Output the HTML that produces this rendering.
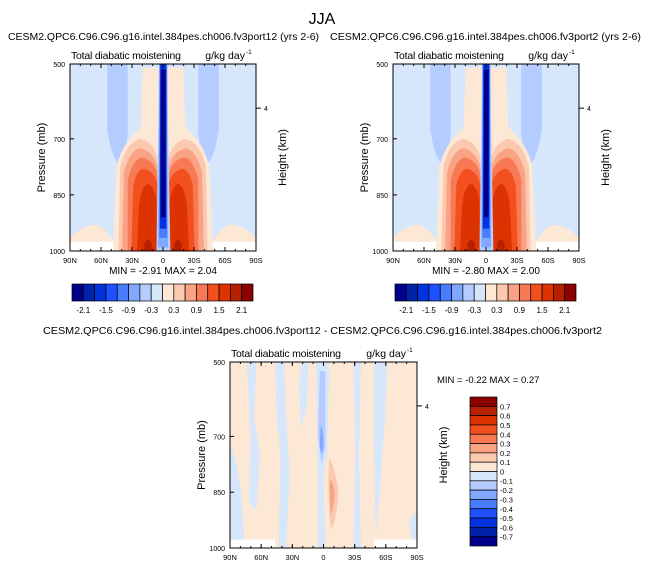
<!DOCTYPE html>
<html><head><meta charset="utf-8"><style>
html,body{margin:0;padding:0;background:#fff;}
svg{display:block;font-family:"Liberation Sans",Arial,sans-serif;}
</style></head><body>
<svg id="fig" width="645" height="569" viewBox="0 0 645 569"></svg>
<script>
// ---- data ----
const xTickLabels = ["90N","60N","30N","0","30S","60S","90S"];
const pTicks = [500,700,850,1000];
const heightTicks = [4];
const heightTickFrac = [0.236];
const topLevels = [-2.1,-1.8,-1.5,-1.2,-0.9,-0.6,-0.3,0,0.3,0.6,0.9,1.2,1.5,1.8,2.1];
const topLevelLabels = ["-2.1","-1.5","-0.9","-0.3","0.3","0.9","1.5","2.1"];
const diffLevelLabels = ["0.7","0.6","0.5","0.4","0.3","0.2","0.1","0","-0.1","-0.2","-0.3","-0.4","-0.5","-0.6","-0.7"];
const palette = ["#00008b","#0022a8","#0033dd","#1e50ff","#4a7cff","#80a8ff","#b4ccff","#d6e6fb","#fde8d6","#fcc9b0","#f9a384","#f77a55","#f2501f","#dd3300","#b52000","#8b0000"];
const stats = [{min:"-2.91",max:"2.04"},{min:"-2.80",max:"2.00"},{min:"-0.22",max:"0.27"}];

const NS="http://www.w3.org/2000/svg";
const svg=document.getElementById('fig');
function mk(tag,attrs,parent){const e=document.createElementNS(NS,tag);for(const k in attrs)e.setAttribute(k,attrs[k]);(parent||svg).appendChild(e);return e;}
function txt(s,x,y,size,anchor,parent,extra){const t=mk('text',Object.assign({x:x,y:y,'font-size':size,'text-anchor':anchor||'start',fill:'#000'},extra||{}),parent);t.textContent=s;return t;}

function shape(g,x0,y0,w,h,pts,fill,mirror){
  let d=pts.replace(/(-?\d*\.?\d+),(-?\d*\.?\d+)/g,(m,a,b)=>{let u=+a;if(mirror)u=1-u;return (x0+u*w).toFixed(1)+','+(y0+(+b)*h).toFixed(1);});
  return mk('path',{d:d,fill:fill},g);
}

function axes(g,x0,y0,w,h){
  const yS=p=>y0+(p-500)/500*h;
  const xS=i=>x0+i*w/(xTickLabels.length-1);
  mk('rect',{x:x0,y:y0,width:w,height:h,fill:'none',stroke:'#000','stroke-width':1},g);
  xTickLabels.forEach((l,i)=>{
    const x=xS(i);
    mk('line',{x1:x,y1:y0+h,x2:x,y2:y0+h-4,stroke:'#000'},g);
    mk('line',{x1:x,y1:y0,x2:x,y2:y0+4,stroke:'#000'},g);
    const t=txt(l,x,y0+h+12,7.5,'middle',g);
    
    
  });
  for(let i=0;i<18;i++){const x=x0+i*w/18;mk('line',{x1:x,y1:y0+h,x2:x,y2:y0+h-2,stroke:'#000'},g);mk('line',{x1:x,y1:y0,x2:x,y2:y0+2,stroke:'#000'},g);}
  pTicks.forEach(p=>{
    const y=yS(p);
    mk('line',{x1:x0,y1:y,x2:x0+4,y2:y,stroke:'#000'},g);
    const t=txt(String(p),x0-5,y+3,7,'end',g);
    
    
  });
  heightTicks.forEach((hk,i)=>{
    const y=y0+heightTickFrac[i]*h;
    mk('line',{x1:x0+w,y1:y,x2:x0+w+5,y2:y,stroke:'#000'},g);
    txt(String(hk),x0+w+8,y+3,7,'start',g);
  });
  const yl=txt('Pressure (mb)',0,0,11,'middle',g,{transform:`translate(${x0-25},${y0+h/2}) rotate(-90)`});
  
  
  const hl=txt('Height (km)',0,0,11,'middle',g,{transform:`translate(${x0+w+30},${y0+h/2}) rotate(-90)`});
  
  
  txt('Total diabatic moistening',x0+1,y0-5,10.5,'start',g,{textLength:110});
  txt('g/kg day',x0+w-11,y0-5,10.5,'end',g);
  txt('-1',x0+w-10,y0-10,6.5,'start',g);
}

function topPanel(x0,y0,w,h,name,titleStr,titleX,st){
  const g=mk('g',{});
  
  
  const tt=txt(titleStr,titleX,40,10.5,'start',null,{textLength:311,lengthAdjust:'spacingAndGlyphs'});
  
  
  mk('rect',{x:x0,y:y0,width:w,height:h,fill:palette[7]},g);
  mk('rect',{x:x0,y:y0+0.95*h,width:w,height:0.05*h,fill:'#fff'},g);
  [false,true].forEach(m=>{
    shape(g,x0,y0,w,h,'M0.2,0 L0.31,0 L0.31,0.38 Q0.29,0.55 0.25,0.52 Q0.22,0.48 0.2,0.35 Z',palette[6],m);
    shape(g,x0,y0,w,h,'M0,0.93 Q0.07,0.86 0.14,0.86 Q0.18,0.87 0.22,0.93 L0.24,0.95 L0,0.95 Z',palette[8],m);
  });
  shape(g,x0,y0,w,h,'M0.39,0.02 L0.61,0.02 L0.62,0.34 Q0.72,0.42 0.75,0.55 L0.77,1 L0.23,1 L0.25,0.55 Q0.28,0.42 0.38,0.34 Z',palette[8]);
  [false,true].forEach(m=>{
    shape(g,x0,y0,w,h,'M0.26,1 L0.27,0.55 Q0.3,0.42 0.38,0.4 Q0.45,0.42 0.47,0.5 L0.47,1 Z',palette[9],m);
    shape(g,x0,y0,w,h,'M0.28,1 L0.29,0.58 Q0.32,0.46 0.38,0.45 Q0.45,0.47 0.47,0.55 L0.47,1 Z',palette[10],m);
    shape(g,x0,y0,w,h,'M0.31,1 L0.31,0.62 Q0.34,0.5 0.39,0.5 Q0.46,0.52 0.47,0.6 L0.47,1 Z',palette[11],m);
    shape(g,x0,y0,w,h,'M0.33,1 L0.34,0.65 Q0.36,0.56 0.4,0.56 Q0.46,0.58 0.47,0.65 L0.47,1 Z',palette[12],m);
    shape(g,x0,y0,w,h,'M0.36,1 L0.37,0.78 Q0.38,0.65 0.42,0.64 Q0.46,0.66 0.465,0.75 L0.465,1 Z',palette[13],m);
    shape(g,x0,y0,w,h,'M0.4,1 L0.4,0.96 Q0.42,0.92 0.44,0.96 L0.44,1 Z',palette[14],m);
  });
  shape(g,x0,y0,w,h,'M0.465,1 L0.475,0.3 L0.478,0 L0.525,0 L0.527,0.3 L0.54,1 Z',palette[6]);
  shape(g,x0,y0,w,h,'M0.475,0.98 L0.48,0 L0.522,0 L0.527,0.98 Z',palette[5]);
  shape(g,x0,y0,w,h,'M0.48,0.93 L0.483,0 L0.52,0 L0.522,0.93 Z',palette[4]);
  shape(g,x0,y0,w,h,'M0.483,0.88 L0.485,0 L0.518,0 L0.518,0.88 Z',palette[2]);
  shape(g,x0,y0,w,h,'M0.488,0.82 L0.49,0.03 L0.514,0.03 L0.514,0.82 Z',palette[0]);
  axes(g,x0,y0,w,h);
  const mm=txt(`MIN =  ${st.min}  MAX =   ${st.max}`,x0+w/2,y0+h+23,10,'middle',g);
  
  
  const cb=mk('g',{});
  
  
  const cx=x0+2,cy=284,cw=181,ch=17,bw=cw/palette.length;
  palette.forEach((c,i)=>{
    const r=mk('rect',{x:cx+i*bw,y:cy,width:bw,height:ch,fill:c,stroke:'#000','stroke-width':0.7},cb);
    
    
  });
  topLevelLabels.forEach((l,i)=>{
    txt(l,cx+(2*i+1)*bw,313,8,'middle',cb);
  });
}

topPanel(70,64,186,187,'panel-port12','CESM2.QPC6.C96.C96.g16.intel.384pes.ch006.fv3port12 (yrs 2-6)',8,stats[0]);
topPanel(393,64,186,187,'panel-port2','CESM2.QPC6.C96.C96.g16.intel.384pes.ch006.fv3port2 (yrs 2-6)',330,stats[1]);

txt('JJA',322,24,16,'middle');

(function(){
  const x0=230,y0=362,w=187,h=186;
  const g=mk('g',{});
  
  
  const tt=txt('CESM2.QPC6.C96.C96.g16.intel.384pes.ch006.fv3port12 - CESM2.QPC6.C96.C96.g16.intel.384pes.ch006.fv3port2',43,334,10.5,'start',null,{textLength:559,lengthAdjust:'spacingAndGlyphs'});
  
  
  mk('rect',{x:x0,y:y0,width:w,height:h,fill:palette[8]},g);
  const L=palette[7];
  shape(g,x0,y0,w,h,'M0,0.45 Q0.03,0.5 0.06,0.7 L0.08,1 L0,1 Z',L);
  shape(g,x0,y0,w,h,'M0.09,0 L0.14,0 L0.13,0.3 L0.16,0.5 L0.14,0.8 L0.1,0.75 L0.11,0.4 Z',L);
  shape(g,x0,y0,w,h,'M0.24,0 L0.29,0 L0.3,0.3 L0.32,0.6 L0.3,1 L0.26,1 L0.27,0.5 L0.25,0.3 Z',L);
  shape(g,x0,y0,w,h,'M0.38,0 L0.42,0 L0.41,0.25 L0.38,0.35 L0.37,0.15 Z',L);
  shape(g,x0,y0,w,h,'M0.46,0 L0.53,0 L0.52,0.5 L0.5,0.6 L0.51,1 L0.47,1 L0.47,0.6 Z',L);
  shape(g,x0,y0,w,h,'M0.48,0.05 L0.51,0.05 L0.51,0.45 L0.49,0.55 L0.47,0.4 Z',palette[6]);
  shape(g,x0,y0,w,h,'M0.485,0.34 Q0.5,0.36 0.5,0.45 Q0.49,0.52 0.48,0.45 Z',palette[5]);
  shape(g,x0,y0,w,h,'M0.66,0 L0.7,0 L0.69,0.5 L0.7,1 L0.66,1 L0.67,0.5 Z',L);
  shape(g,x0,y0,w,h,'M0.77,0 L0.84,0 L0.83,0.3 L0.8,0.7 L0.78,0.95 L0.77,0.5 Z',L);
  shape(g,x0,y0,w,h,'M0.96,0.85 L1,0.8 L1,0.95 L0.97,0.95 Z',L);
  shape(g,x0,y0,w,h,'M0.53,0.52 Q0.56,0.55 0.58,0.7 Q0.57,0.85 0.54,0.9 Q0.52,0.75 0.53,0.52 Z',palette[9]);
  shape(g,x0,y0,w,h,'M0.535,0.63 Q0.56,0.66 0.56,0.72 Q0.55,0.8 0.54,0.82 Q0.53,0.72 0.535,0.63 Z',palette[10]);
  mk('rect',{x:x0,y:y0+0.955*h,width:0.24*w,height:0.045*h,fill:'#fff'},g);
  mk('rect',{x:x0+0.77*w,y:y0+0.955*h,width:0.23*w,height:0.045*h,fill:'#fff'},g);
  axes(g,x0,y0,w,h);
  const mm=txt(`MIN =  ${stats[2].min}  MAX =   ${stats[2].max}`,437,383,9.5,'start',g);
  
  
  const cb=mk('g',{});
  
  
  const cx=470,cy=397,cw=27,ch=149,bh=ch/palette.length;
  palette.slice().reverse().forEach((c,i)=>{
    const r=mk('rect',{x:cx,y:cy+i*bh,width:cw,height:bh,fill:c,stroke:'#000','stroke-width':0.7},cb);
    
    
  });
  diffLevelLabels.forEach((l,i)=>{txt(l,cx+cw+3,cy+(i+1)*bh+3,7.5,'start',cb);});
})();
</script>
</body></html>
